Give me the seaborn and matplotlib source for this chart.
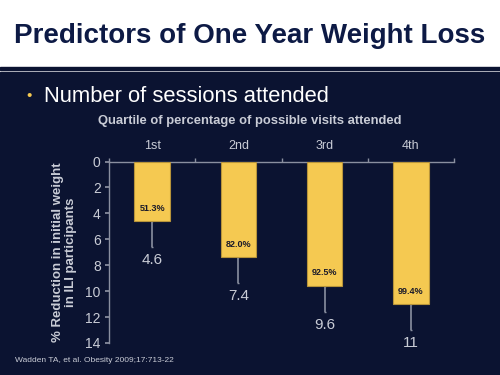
import matplotlib
matplotlib.use("Agg")
import matplotlib.pyplot as plt
from matplotlib.patches import Rectangle
import seaborn as sns
import pandas as pd

# data
quartiles = ['1st', '2nd', '3rd', '4th']
reduction = [4.6, 7.4, 9.6, 11.0]
error_down = [2.0, 2.0, 2.0, 2.0]
visits_pct = ['51.3%', '82.0%', '92.5%', '99.4%']
value_labels = ['4.6', '7.4', '9.6', '11']
y_ticks = [0, 2, 4, 6, 8, 10, 12, 14]

navy = '#0b1331'
title_navy = '#0d1a45'
bar_yellow = '#f5c951'
axis_gray = '#8a8fa0'
label_gray = '#c9ccd6'

sns.set_theme(style='white')
plt.rcParams['font.family'] = ['Liberation Sans', 'DejaVu Sans']

df = pd.DataFrame({'quartile': quartiles, 'reduction': reduction})

fig = plt.figure(figsize=(5, 3.75), dpi=100)
fig.patch.set_facecolor('white')

# dark slide body and the double rule under the header
fig.add_artist(Rectangle((0, 0), 1, (375 - 72) / 375, transform=fig.transFigure,
                         color=navy, zorder=0))
fig.add_artist(Rectangle((0, (375 - 69.5) / 375), 1, 2.5 / 375, transform=fig.transFigure,
                         color=navy, zorder=0))

fig.text(0.5, (375 - 36) / 375, 'Predictors of One Year Weight Loss', ha='center', va='center',
         fontsize=20, fontweight='bold', color=title_navy)
fig.text(29 / 500, (375 - 96) / 375, '\u2022', ha='center', va='center',
         fontsize=11, color=bar_yellow)
fig.text(44 / 500, (375 - 96) / 375, 'Number of sessions attended', ha='left', va='center',
         fontsize=15.8, color='white')
fig.text(250 / 500, (375 - 121) / 375, 'Quartile of percentage of possible visits attended',
         ha='center', va='center', fontsize=9.4, fontweight='bold', color=label_gray)
fig.text(15 / 500, (375 - 361) / 375, 'Wadden TA, et al. Obesity 2009;17:713-22', ha='left',
         va='center', fontsize=6, color=label_gray)

ax = fig.add_axes([109 / 500, 32 / 375, 345 / 500, 181.5 / 375])
ax.set_facecolor('none')

sns.barplot(data=df, x='quartile', y='reduction', ax=ax, color=bar_yellow, saturation=1,
            width=0.41, edgecolor='#b8943a', linewidth=0.8, zorder=3)
ax.errorbar(range(len(quartiles)), reduction, yerr=[[0] * 4, error_down], fmt='none',
            ecolor=axis_gray, elinewidth=1.2, capsize=1, capthick=1, zorder=2)

for i, (val, err) in enumerate(zip(reduction, error_down)):
    ax.text(i, val - 1.0, visits_pct[i], ha='center', va='center', fontsize=6.5,
            fontweight='bold', color='#1a1a2a', zorder=4)
    ax.text(i, val + err + 1.0, value_labels[i], ha='center', va='center', fontsize=11,
            color=label_gray)

ax.set_ylim(14, 0)
ax.set_xlim(-0.5, 3.5)
ax.set_yticks(y_ticks)
ax.xaxis.tick_top()
ax.set_xticks([-0.5, 0.5, 1.5, 2.5, 3.5], minor=True)
ax.tick_params(axis='x', which='major', length=0, pad=7, labelsize=9, labelcolor=label_gray)
ax.tick_params(axis='x', which='minor', length=3, color=axis_gray, top=True, bottom=False)
ax.tick_params(axis='y', length=3, color=axis_gray, labelsize=10, labelcolor=label_gray,
               left=True, pad=3)
ax.set_xlabel('')
ax.set_ylabel('% Reduction in initial weight\nin ILI participants', fontsize=9.5,
              fontweight='bold', color=label_gray, labelpad=6, linespacing=1.05)

for side in ['right', 'bottom']:
    ax.spines[side].set_visible(False)
for side in ['top', 'left']:
    ax.spines[side].set_color(axis_gray)
    ax.spines[side].set_linewidth(1.0)

fig.savefig('out.png', dpi=100, facecolor=fig.get_facecolor())
